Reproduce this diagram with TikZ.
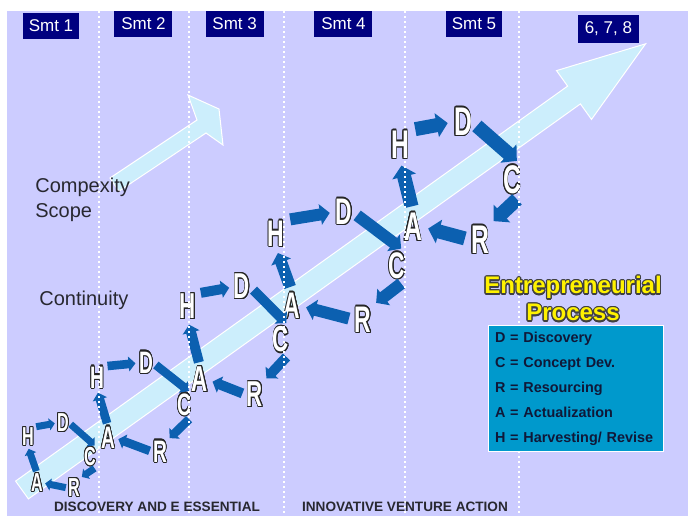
\documentclass[tikz,border=0pt]{standalone}
\usepackage{fontspec}
\setmainfont{Liberation Sans}
\usepackage[copies]{contour}
\usetikzlibrary{arrows.meta}

\definecolor{slidebg}{RGB}{204,204,255}
\definecolor{semnavy}{RGB}{0,0,128}
\definecolor{flowblue}{RGB}{12,96,176}
\definecolor{trendcyan}{RGB}{204,238,252}
\definecolor{keyteal}{RGB}{0,153,204}
\definecolor{keyink}{RGB}{16,24,56}
\definecolor{greytext}{RGB}{40,40,48}

\contourlength{0.6pt}
\newcommand{\stageltr}[1]{\scalebox{0.62}[1]{\contour{black!85}{#1}}}

\tikzset{
  ltr/.style={inner sep=0pt, text=white, font=\bfseries\fontsize{#1}{#1}\selectfont},
  flow/.style={draw=flowblue, line width=#1,
    -{Triangle[width=0pt 1.7, length=0pt 0.8]}},
  semester/.style={fill=semnavy, text=white, inner sep=0pt,
    font=\fontsize{8.5}{8.5}\selectfont},
  divider/.style={white, line width=1pt, dash pattern=on 1pt off 1.5pt},
}

\begin{document}
\begin{tikzpicture}[x=0.5pt, y=-0.5pt]
  \useasboundingbox (0,0) rectangle (693,516);
  \fill[white] (0,0) rectangle (693,516);
  \fill[slidebg] (7,11) rectangle (688,516);

  % Trend arrows
  \filldraw[fill=trendcyan, draw=white, line width=0.5pt]
    (15.6,481.1) -- (567.6,86.1) -- (556.5,70.6) -- (645.6,43.8) --
    (591.5,119.4) -- (580.4,103.9) -- (28.4,498.9) -- cycle;
  \filldraw[fill=trendcyan, draw=white, line width=0.5pt]
    (110,178) -- (197,120) -- (188,95) -- (219,109) -- (223,145) --
    (206,133) -- (118.8,191.3) -- cycle;

  % Cycle 1
  \node[ltr=13pt] (a1) at (37,483) {\stageltr{A}};
  \node[ltr=13pt] (h1) at (28,437) {\stageltr{H}};
  \node[ltr=13pt] (d1) at (63,423) {\stageltr{D}};
  \node[ltr=13pt] (c1) at (90,457) {\stageltr{C}};
  \node[ltr=13pt] (r1) at (74,488) {\stageltr{R}};
  % Cycle 2
  \node[ltr=15.5pt] (a2) at (108,438) {\stageltr{A}};
  \node[ltr=15.5pt] (h2) at (97,378) {\stageltr{H}};
  \node[ltr=15.5pt] (d2) at (146,363) {\stageltr{D}};
  \node[ltr=15.5pt] (c2) at (184,405) {\stageltr{C}};
  \node[ltr=15.5pt] (r2) at (160,452) {\stageltr{R}};
  % Cycle 3
  \node[ltr=18pt] (a3) at (200,380) {\stageltr{A}};
  \node[ltr=18pt] (h3) at (188,307) {\stageltr{H}};
  \node[ltr=18pt] (d3) at (242,287) {\stageltr{D}};
  \node[ltr=18pt] (c3) at (281,340) {\stageltr{C}};
  \node[ltr=18pt] (r3) at (255,395) {\stageltr{R}};
  % Cycle 4
  \node[ltr=18.5pt] (a4) at (292,306) {\stageltr{A}};
  \node[ltr=18.5pt] (h4) at (276,234) {\stageltr{H}};
  \node[ltr=18.5pt] (d4) at (344,212) {\stageltr{D}};
  \node[ltr=18.5pt] (c4) at (397,266) {\stageltr{C}};
  \node[ltr=18.5pt] (r4) at (363,320) {\stageltr{R}};
  % Cycle 5
  \node[ltr=20pt] (a5) at (413,227) {\stageltr{A}};
  \node[ltr=20pt] (h5) at (400,145) {\stageltr{H}};
  \node[ltr=20pt] (d5) at (463,122) {\stageltr{D}};
  \node[ltr=20pt] (c5) at (512,180) {\stageltr{C}};
  \node[ltr=20pt] (r5) at (480,240) {\stageltr{R}};

  % Process arrows A -> H -> D -> C -> R -> A
  \foreach \i/\w/\s in {1/3.5pt/1pt, 2/4.3pt/1.6pt, 3/5pt/2.2pt, 4/6pt/2.8pt, 5/7pt/3pt} {
    \begin{scope}[shorten <=\s, shorten >=\s]
      \draw[flow=\w] (a\i.north) -- (h\i.south);
      \draw[flow=\w] (h\i.north east) -- (d\i.west);
      \draw[flow=\w] (d\i.east) -- (c\i.north east);
      \draw[flow=\w] (c\i.south east) -- (r\i.north east);
      \draw[flow=\w] (r\i.west) -- (a\i.east);
    \end{scope}
  }

  % Semester dividers
  \foreach \x in {98.7, 189, 284.4, 405.3, 519}
    \draw[divider] (\x,11) -- (\x,516);

  % Side labels
  \node[anchor=north west, inner sep=0pt, align=left, text=greytext,
        font=\fontsize{10}{12.5}\selectfont] (scope) at (35,178) {Compexity\\Scope};
  \node[anchor=west, inner sep=0pt, text=greytext,
        font=\fontsize{10}{12}\selectfont] (cont) at (39,300) {Continuity};

  % Semester tags
  \node[semester, minimum width=28pt, minimum height=13pt] (sem1) at (51,26) {Smt 1};
  \node[semester, minimum width=29pt, minimum height=13pt] (sem2) at (143.5,24) {Smt 2};
  \node[semester, minimum width=29pt, minimum height=13pt] (sem3) at (234.7,24) {Smt 3};
  \node[semester, minimum width=29pt, minimum height=13pt] (sem4) at (343.5,24) {Smt 4};
  \node[semester, minimum width=28pt, minimum height=13pt] (sem5) at (474,24) {Smt 5};
  \node[semester, minimum width=30.5pt, minimum height=14pt] (sem678) at (608.4,28.9) {6, 7, 8};

  % Title and key
  \node[align=center, inner sep=0pt, text=yellow,
        font=\bfseries\fontsize{12}{13.5}\selectfont] (title) at (573,299.5)
    {\contourlength{0.6pt}\contour{black!75}{Entrepreneurial}\\
     \contourlength{0.6pt}\contour{black!75}{Process}};
  \node[fill=keyteal, draw=white, line width=0.5pt, minimum width=87.5pt,
        minimum height=61pt, text width=81.5pt, inner xsep=3pt, align=left,
        text=keyink, font=\bfseries\fontsize{7.2}{12.5}\selectfont] (legend) at (576.5,388.5)
    {D = Discovery\\C = Concept Dev.\\R = Resourcing\\A = Actualization\\H = Harvesting/ Revise};

  % Phase captions
  \node[text=greytext, inner sep=0pt, font=\bfseries\fontsize{6.8}{6.8}\selectfont]
    (phase1) at (157,507) {DISCOVERY AND E ESSENTIAL};
  \node[text=greytext, inner sep=0pt, font=\bfseries\fontsize{6.8}{6.8}\selectfont]
    (phase2) at (405,507) {INNOVATIVE VENTURE ACTION};
\end{tikzpicture}
\end{document}
